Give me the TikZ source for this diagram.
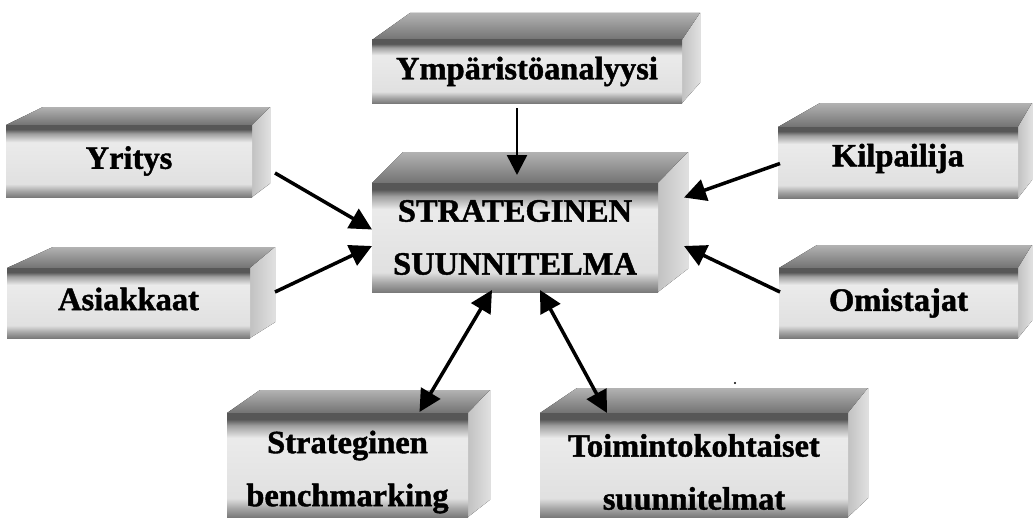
\documentclass[tikz,border=0pt]{standalone}
\usepackage{fontspec}
\setmainfont[BoldFeatures={FakeBold=1.3}]{Liberation Serif}
\usetikzlibrary{arrows.meta,calc}

% front face: dark rim at top and bottom, pale in the middle
\pgfdeclareverticalshading{frontshade}{100bp}{%
  color(0bp)=(black!52); color(25bp)=(black!52); color(29bp)=(black!36);
  color(34bp)=(black!12); color(63bp)=(black!8); color(69bp)=(black!38);
  color(72bp)=(black!66); color(100bp)=(black!66)}

\tikzset{
  topface/.style={top color=black!30, bottom color=black!55},
  sideface/.style={left color=black!24, right color=black!12},
  frontface/.style={shade, shading=frontshade, inner sep=0pt, outer sep=0pt},
  lbl/.style={font=\fontsize{32.5}{53}\selectfont\bfseries, align=center, inner sep=0pt},
  arr/.style={line width=3.5pt, -{Triangle[length=22pt,width=22pt]}},
  arrthin/.style={line width=2.6pt, -{Triangle[length=20pt,width=20pt]}},
  biarr/.style={line width=3.5pt, {Triangle[length=22pt,width=22pt]}-{Triangle[length=22pt,width=22pt]}},
  txt-bm/.style={yshift=-7pt},
  txt-to/.style={yshift=-7pt},
  txt-ki/.style={yshift=4pt},
  txt-as/.style={yshift=4pt},
}

% #1 name, #2-#5 front face (x1,y1,x2,y2), #6 back-left x, #7 back-right x, #8 back top y, #9 text
\newcommand\blockbox[9]{%
  \fill[topface] (#2,#3) -- (#6,#8) -- (#7,#8) -- (#4,#3) -- cycle;
  \fill[sideface] (#4,#3) -- (#7,#8) -- (#7,{#5-(#3-#8)*0.75}) -- (#4,#5) -- cycle;
  \node[frontface, minimum width={#4-#2}, minimum height={#5-#3}]
    (#1) at ({(#2+#4)/2},{(#3+#5)/2}) {};
  \node[lbl, txt-#1/.try] (#1-text) at (#1.center) {#9};
}

\begin{document}
\begin{tikzpicture}[x=1pt,y=-1pt]
\useasboundingbox (0,0) rectangle (1034,519);

\blockbox{ym}{372}{40}{682}{103}{410}{700}{13}{Ympäristöanalyysi}
\blockbox{st}{372}{183}{658}{292}{403}{688}{152}{STRATEGINEN\\SUUNNITELMA}
\blockbox{yr}{6}{125}{252}{197}{43}{270}{107}{Yritys}
\blockbox{as}{7}{268}{250}{338}{53}{275}{247}{Asiakkaat}
\blockbox{ki}{778}{127}{1018}{198}{820}{1032}{103}{Kilpailija}
\blockbox{om}{779}{268}{1018}{338}{817}{1032}{245}{Omistajat}
\blockbox{bm}{227}{413}{468}{517}{260}{490}{390}{Strateginen\\benchmarking}
\blockbox{to}{540}{413}{848}{517}{577}{868}{388}{Toimintokohtaiset\\suunnitelmat}

% inputs to the strategic plan
\draw[arrthin] ([shift={(-10,5)}]ym.south) -- ([shift={(2,-8)}]st.north);
\draw[arr] ([shift={(23,12)}]yr.east) -- ([shift={(0,-8)}]st.west);
\draw[arr] ([shift={(25,-11)}]as.east) -- ([shift={(0,8.5)}]st.west);
\draw[arr] ([shift={(2,1)}]ki.west) -- ([shift={(26,-40)}]st.east);
\draw[arr] ([shift={(1,-11)}]om.west) -- ([shift={(26,8.5)}]st.east);

% two-way links below
\draw[biarr] ([shift={(-23,-2)}]st.south) -- ([shift={(72,-1)}]bm.north);
\draw[biarr] ([shift={(25,-2)}]st.south) -- ([shift={(-87,0)}]to.north);

% small speck
\fill (735,383) circle (1.2);
\end{tikzpicture}
\end{document}
